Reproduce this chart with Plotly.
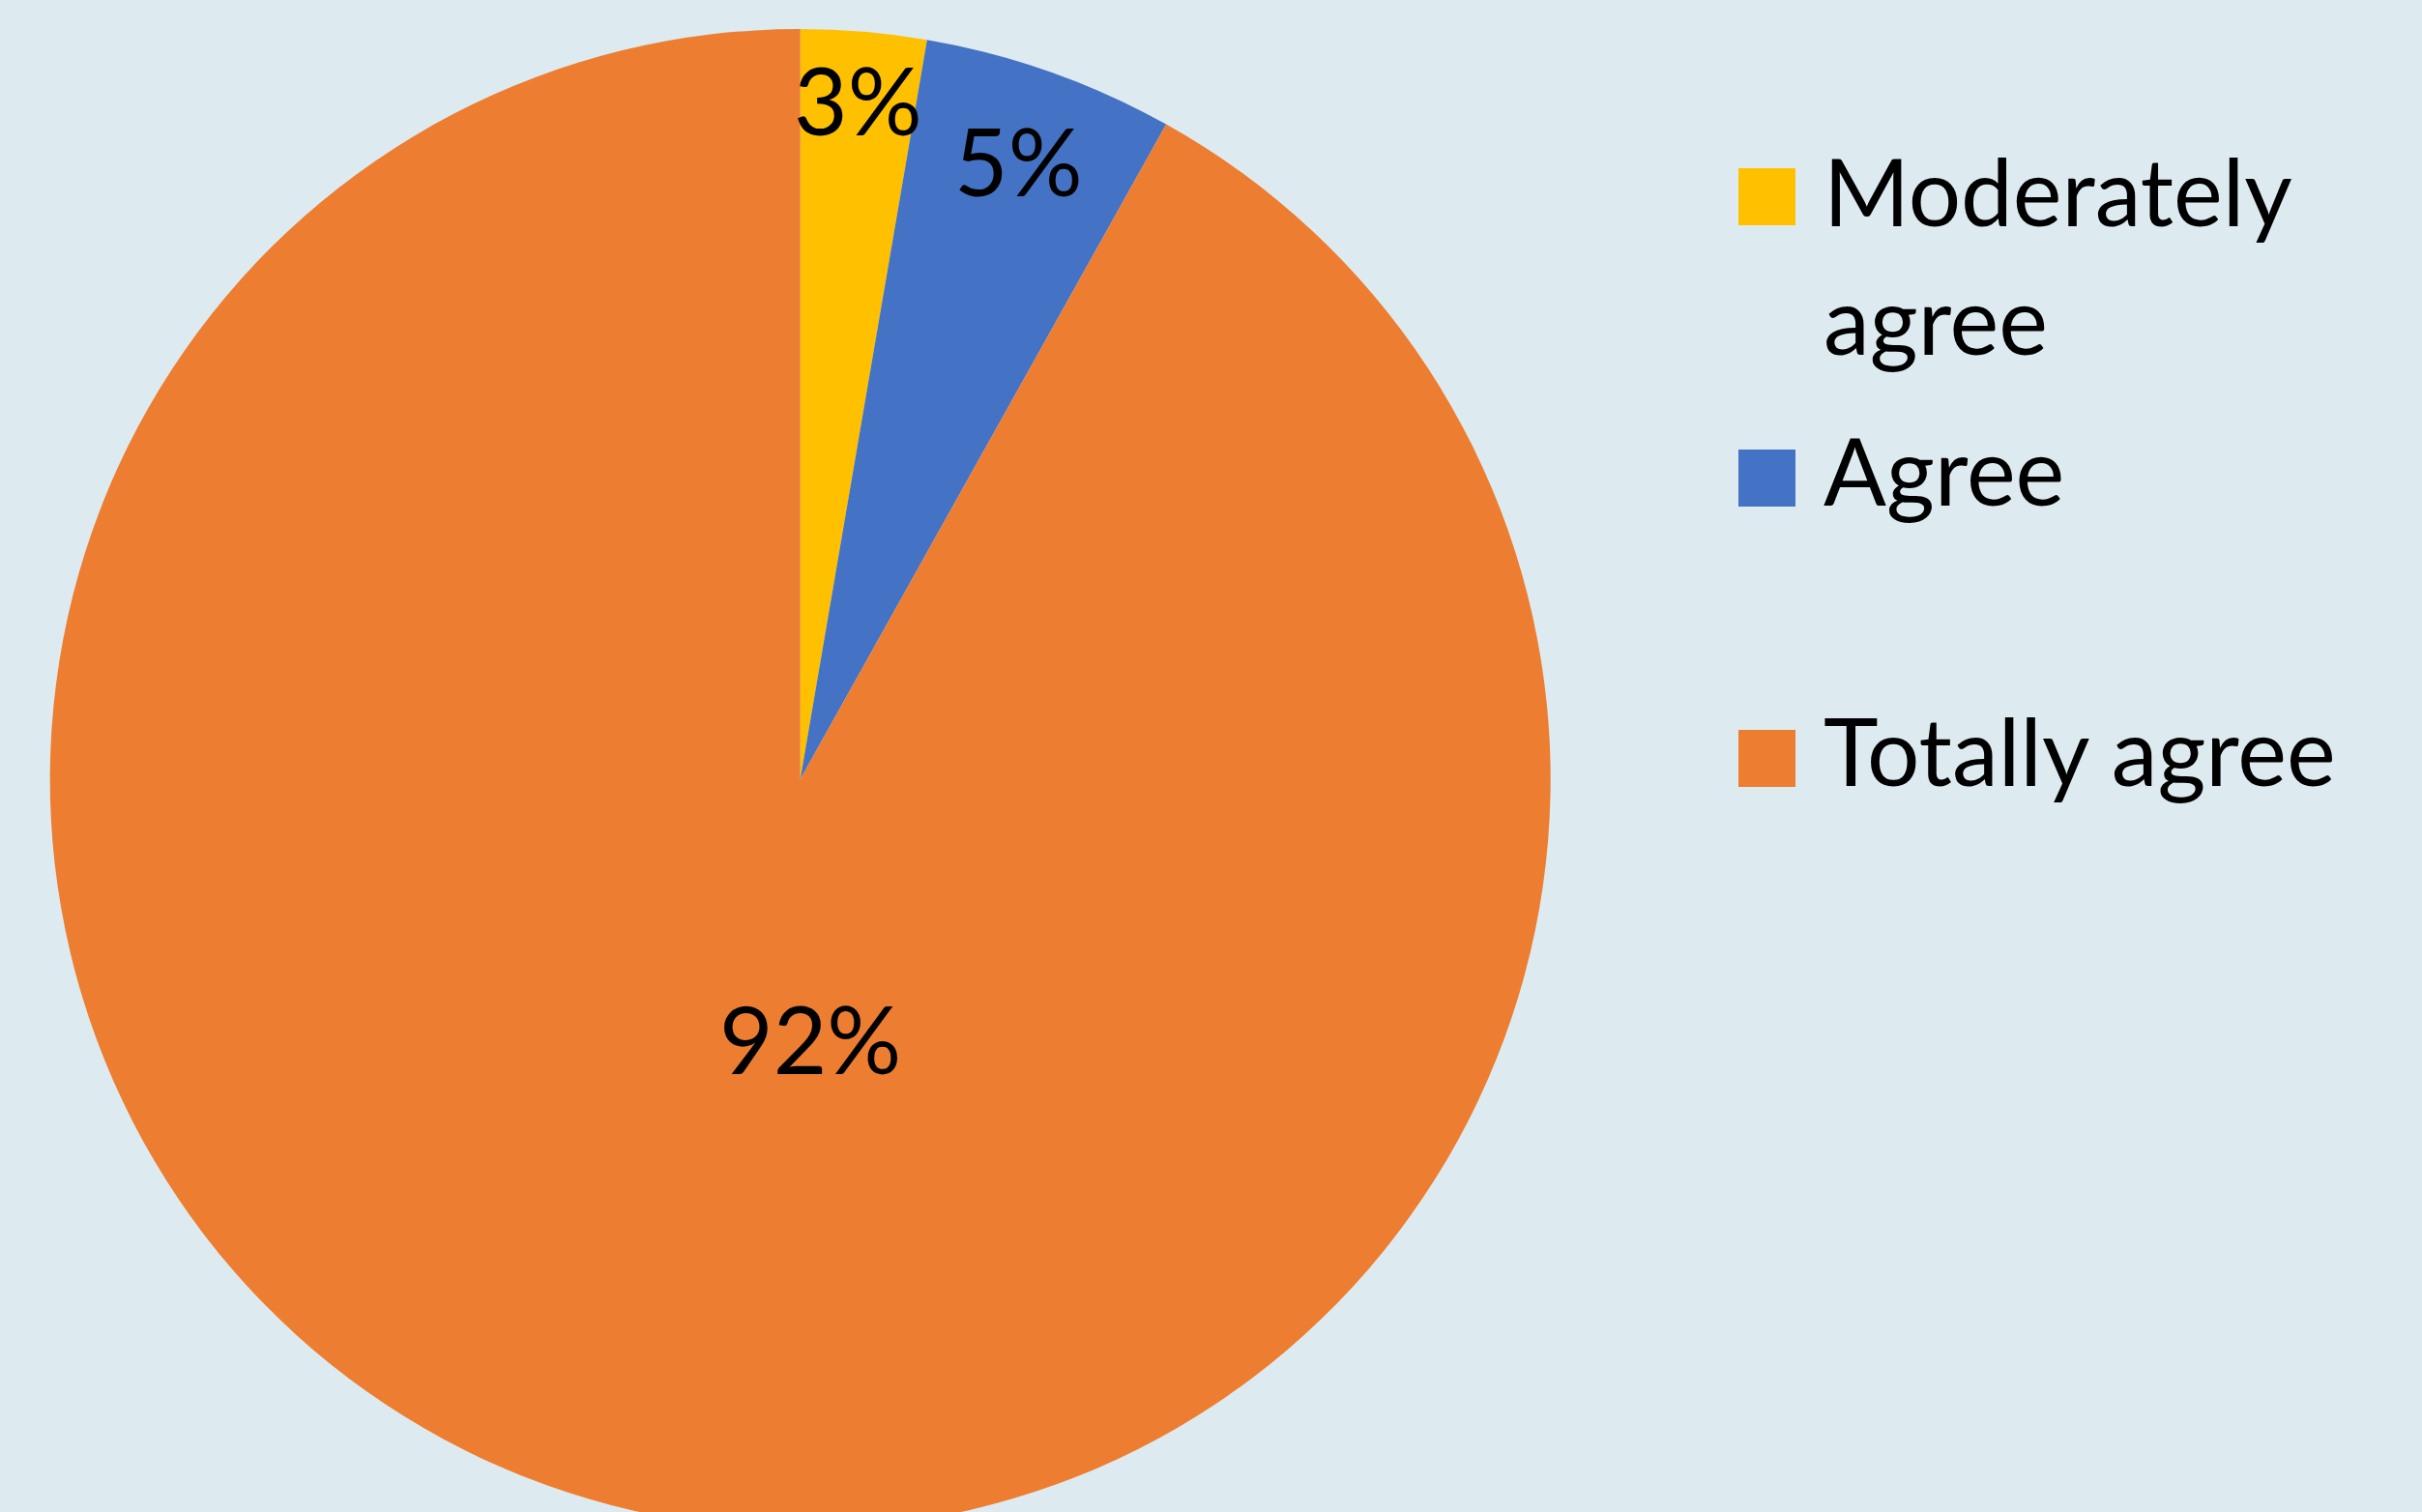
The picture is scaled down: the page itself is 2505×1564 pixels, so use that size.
import math
import plotly.graph_objects as go

# ---------------- data ----------------
labels = ["Moderately agree", "Agree", "Totally agree"]
legend_text = ["Moderately<br>agree", "Agree", "Totally agree"]
counts = [1, 2, 34]
colors = ["#FFC000", "#4472C4", "#ED7D31"]

# ---------------- layout constants ----------------
W, H = 2505, 1600
BG = "#DDEBF0"
FONT = "Lato"
cx, cy, R = 827.7, 806.0, 776.0          # pie centre / radius in px
label_r = [0.91, 0.875, 0.345]           # label radius fraction
label_shift = [0.0, 0.0, -16.8]          # label angle shift (deg)
label_size = 96
legend_size = 96
leg_sq_x0, leg_sq = 1798, 59
leg_sq_y = [174, 465, 755]
leg_text_x = 1886
leg_baseline = [236, 525, 815]
leg_line_gap = 133


def px(x):
    return x / W


def py(y):
    return 1 - y / H


fig = go.Figure()
fig.add_trace(go.Pie(
    labels=labels,
    values=counts,
    sort=False,
    direction="clockwise",
    rotation=0,
    marker=dict(colors=colors, line=dict(width=0)),
    textinfo="none",
    hoverinfo="label+percent",
    showlegend=False,
    domain=dict(x=[px(cx - R), px(cx + R)], y=[py(cy + R), py(cy - R)]),
))

annotations = []
shapes = []
total = sum(counts)
cum = 0
for i, v in enumerate(counts):
    mid = (cum + v / 2) / total * 360 + label_shift[i]
    cum += v
    r = label_r[i] * R
    lx = cx + r * math.sin(math.radians(mid))
    ly = cy - r * math.cos(math.radians(mid))
    pct = round(v / total * 100)
    annotations.append(dict(
        x=px(lx), y=py(ly), xref="paper", yref="paper",
        text=f"{pct}%", showarrow=False, xanchor="center", yanchor="middle",
        font=dict(family=FONT, size=label_size, color="#000000"),
    ))

# legend (drawn manually to match the original spacing)
for i, name in enumerate(legend_text):
    shapes.append(dict(
        type="rect", xref="paper", yref="paper",
        x0=px(leg_sq_x0), x1=px(leg_sq_x0 + leg_sq),
        y0=py(leg_sq_y[i] + leg_sq), y1=py(leg_sq_y[i]),
        fillcolor=colors[i], line=dict(width=0),
    ))
    for k, line in enumerate(name.split("<br>")):
        base = leg_baseline[i] + k * leg_line_gap
        top = base - 0.987 * legend_size - 2
        annotations.append(dict(
            x=px(leg_text_x), y=py(top), xref="paper", yref="paper",
            text=line, showarrow=False, xanchor="left", yanchor="top", align="left",
            font=dict(family=FONT, size=legend_size, color="#000000"),
            borderpad=0, borderwidth=0,
        ))

fig.update_layout(
    width=W, height=H,
    margin=dict(l=0, r=0, t=0, b=0),
    paper_bgcolor=BG, plot_bgcolor=BG,
    annotations=annotations, shapes=shapes,
    showlegend=False,
)

fig.write_html(
    "out.html",
    config={"displayModeBar": False},
    post_script="document.documentElement.style.overflow='hidden';document.body.style.overflow='hidden';document.body.style.margin='0';",
)
